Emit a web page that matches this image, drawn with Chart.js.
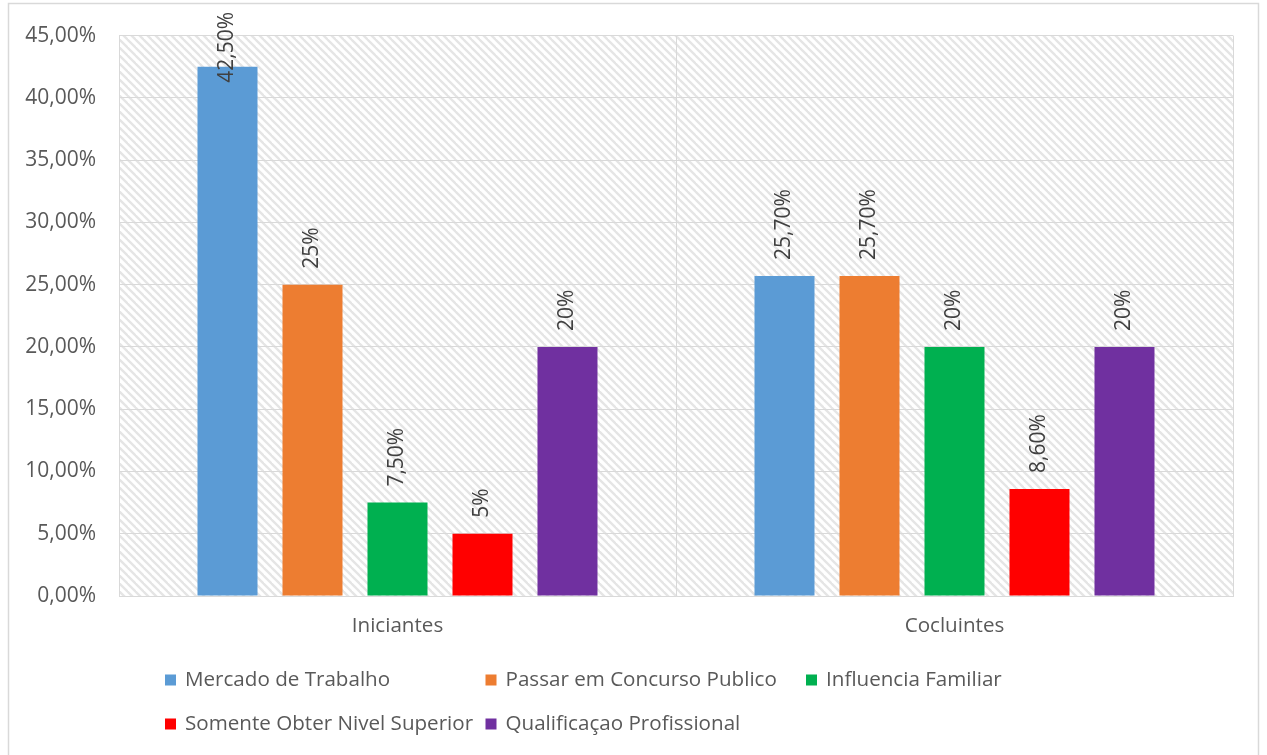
<!DOCTYPE html>
<html>
<head>
<meta charset="utf-8">
<script src="https://cdn.jsdelivr.net/npm/chart.js@4.4.0/dist/chart.umd.min.js"></script>
<style>
  html, body { margin: 0; padding: 0; background: #ffffff; }
  #wrap { width: 1267px; height: 755px; position: relative; }
  canvas { display: block; }
</style>
</head>
<body>
<div id="wrap"><canvas id="chart" width="1267" height="755"></canvas></div>
<script>
// Grupos de alunos
const categories = ['Iniciantes', 'Cocluintes'];

// Motivos da escolha do curso (%)
const seriesNames = [
  'Mercado de Trabalho',
  'Passar em Concurso Publico',
  'Influencia Familiar',
  'Somente Obter Nivel Superior',
  'Qualificaçao Profissional'
];
const mercadoTrabalho    = [42.5, 25.7];
const concursoPublico    = [25, 25.7];
const influenciaFamiliar = [7.5, 20];
const nivelSuperior      = [5, 8.6];
const qualificacao       = [20, 20];

// Eixo Y: 0% a 45%, passo 5%
const yMin = 0;
const yMax = 45;
const yStep = 5;

const seriesColors = ['#5B9BD5', '#ED7D31', '#00B050', '#FF0000', '#7030A0'];
const seriesValues = [mercadoTrabalho, concursoPublico, influenciaFamiliar, nivelSuperior, qualificacao];

const FONT = '"Open Sans", "Liberation Sans", sans-serif';
const TEXT_COLOR = '#595959';
const GRID_COLOR = '#d9d9d9';

function tickLabel(v) {
  return v.toFixed(2).replace('.', ',') + '%';
}
function valueLabel(v) {
  return Number.isInteger(v) ? v + '%' : v.toFixed(2).replace('.', ',') + '%';
}

// Listras diagonais do fundo da área de plotagem
function makeHatch() {
  const size = 8;
  const c = document.createElement('canvas');
  c.width = size; c.height = size;
  const g = c.getContext('2d');
  g.fillStyle = '#ffffff';
  g.fillRect(0, 0, size, size);
  g.strokeStyle = '#e5e5e5';
  g.lineWidth = 2.3;
  g.lineCap = 'square';
  for (let o = -size; o <= size; o += size) {
    g.beginPath();
    g.moveTo(o, 0);
    g.lineTo(o + size, size);
    g.stroke();
  }
  return c;
}

const backgroundPlugin = {
  id: 'plotBackground',
  beforeDraw(chart) {
    const { ctx, chartArea: a } = chart;
    ctx.save();
    ctx.fillStyle = '#ffffff';
    ctx.fillRect(0, 0, chart.width, chart.height);
    // moldura externa
    ctx.strokeStyle = GRID_COLOR;
    ctx.lineWidth = 1.5;
    ctx.strokeRect(8.5, 3.5, chart.width - 17, chart.height + 10);
    // hachura
    ctx.fillStyle = ctx.createPattern(makeHatch(), 'repeat');
    ctx.fillRect(a.left, a.top, a.right - a.left, a.bottom - a.top);
    ctx.restore();
  }
};

// Rótulos de valor, girados, acima das barras
const valueLabelPlugin = {
  id: 'valueLabels',
  afterDatasetsDraw(chart) {
    const { ctx } = chart;
    ctx.save();
    ctx.font = '21px ' + FONT;
    ctx.fillStyle = '#404040';
    ctx.textAlign = 'left';
    ctx.textBaseline = 'middle';
    chart.data.datasets.forEach((ds, i) => {
      const meta = chart.getDatasetMeta(i);
      meta.data.forEach((bar, j) => {
        const text = valueLabel(ds.data[j]);
        const w = ctx.measureText(text).width;
        let start = bar.y - 16;
        if (start - w < 12) start = 12 + w;
        ctx.save();
        ctx.translate(bar.x, start);
        ctx.rotate(-Math.PI / 2);
        ctx.fillText(text, 0, 0);
        ctx.restore();
      });
    });
    ctx.restore();
  }
};

// Legenda em grade de três colunas
const gridLegendPlugin = {
  id: 'gridLegend',
  afterDraw(chart) {
    const { ctx } = chart;
    const left = 165, colWidth = 320.5, rowY = [680, 724], box = 11, gap = 9;
    ctx.save();
    ctx.font = '20.6px ' + FONT;
    ctx.textBaseline = 'middle';
    ctx.textAlign = 'left';
    chart.data.datasets.forEach((ds, i) => {
      const col = i % 3, row = Math.floor(i / 3);
      const x = left + col * colWidth;
      const y = rowY[row];
      ctx.fillStyle = ds.backgroundColor;
      ctx.fillRect(x, y - box / 2, box, box);
      ctx.fillStyle = TEXT_COLOR;
      ctx.fillText(ds.label, x + box + gap, y);
    });
    ctx.restore();
  }
};

new Chart(document.getElementById('chart'), {
  type: 'bar',
  data: {
    labels: categories,
    datasets: seriesNames.map((name, i) => ({
      label: name,
      data: seriesValues[i],
      backgroundColor: seriesColors[i],
      borderWidth: 0,
      categoryPercentage: 0.763,
      barPercentage: 0.706
    }))
  },
  options: {
    responsive: false,
    animation: false,
    devicePixelRatio: 1,
    layout: { padding: { top: 33, right: 34, left: 0, bottom: 0 } },
    plugins: {
      legend: { display: false },
      tooltip: { enabled: false }
    },
    scales: {
      x: {
        grid: { color: GRID_COLOR, lineWidth: 1, offset: true, drawTicks: false },
        border: { color: GRID_COLOR, width: 1 },
        ticks: { color: TEXT_COLOR, font: { family: FONT, size: 20.6 }, padding: 18 },
        afterFit(scale) { scale.height = 159; }
      },
      y: {
        min: yMin,
        max: yMax,
        grid: { color: GRID_COLOR, lineWidth: 1, drawTicks: false },
        border: { color: GRID_COLOR, width: 1 },
        ticks: {
          stepSize: yStep,
          color: TEXT_COLOR,
          font: { family: FONT, size: 21 },
          padding: 23,
          callback: (v) => tickLabel(v)
        },
        afterFit(scale) { scale.width = 119; }
      }
    }
  },
  plugins: [backgroundPlugin, valueLabelPlugin, gridLegendPlugin]
});
</script>
</body>
</html>
